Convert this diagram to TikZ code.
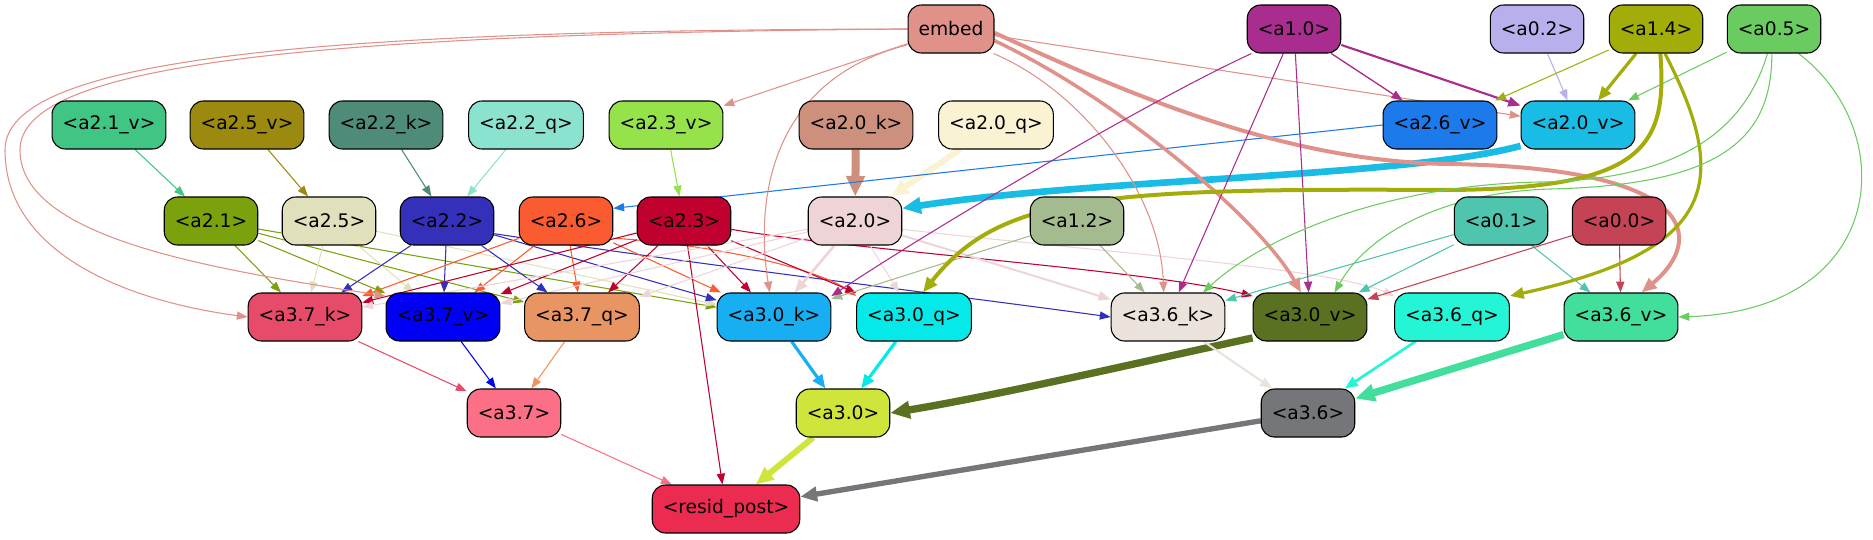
\documentclass[tikz,border=0pt]{standalone}
\usepackage{fontspec}
\setmainfont{DejaVu Sans}
\usetikzlibrary{arrows.meta}

\pgfdeclarelayer{edges}
\pgfsetlayers{edges,main}

\definecolor{cEmbed}{HTML}{E0918A}
\definecolor{cA10}{HTML}{A82D8E}
\definecolor{cA02}{HTML}{B8B0EC}
\definecolor{cA14}{HTML}{A3AD0A}
\definecolor{cA05}{HTML}{6ACC60}
\definecolor{cA21v}{HTML}{40C584}
\definecolor{cA25v}{HTML}{9C8A10}
\definecolor{cA22k}{HTML}{4E8B79}
\definecolor{cA22q}{HTML}{8BE3CF}
\definecolor{cA23v}{HTML}{96E24B}
\definecolor{cA20k}{HTML}{CD907D}
\definecolor{cA20q}{HTML}{FAF3D3}
\definecolor{cA26v}{HTML}{1C7AEA}
\definecolor{cA20v}{HTML}{19BCE5}
\definecolor{cA21}{HTML}{7BA20C}
\definecolor{cA25}{HTML}{E1E0BD}
\definecolor{cA22}{HTML}{3530BA}
\definecolor{cA26}{HTML}{FB5B30}
\definecolor{cA23}{HTML}{C0002F}
\definecolor{cA20}{HTML}{EED3D7}
\definecolor{cA12}{HTML}{A4BA8F}
\definecolor{cA01}{HTML}{4FC4AE}
\definecolor{cA00}{HTML}{C44455}
\definecolor{cA37k}{HTML}{E64B6A}
\definecolor{cA37v}{HTML}{0000F5}
\definecolor{cA37q}{HTML}{E99563}
\definecolor{cA30k}{HTML}{17AFF2}
\definecolor{cA30q}{HTML}{05EAE8}
\definecolor{cA36k}{HTML}{ECE2DC}
\definecolor{cA30v}{HTML}{5A7121}
\definecolor{cA36q}{HTML}{24F5D6}
\definecolor{cA36v}{HTML}{42DE9B}
\definecolor{cA37}{HTML}{FC7087}
\definecolor{cA30}{HTML}{CFE53B}
\definecolor{cA36}{HTML}{75767A}
\definecolor{cResid}{HTML}{EC2B51}

\begin{document}
\begin{tikzpicture}[
    x=0.75pt, y=-0.75pt,
    box/.style={rectangle, draw, line width=0.8pt, fill=#1, rounded corners=10pt, minimum height=36pt, inner xsep=7.9pt, font=\fontsize{14pt}{16pt}\selectfont},
    link/.style={draw=#1, line width=0.8pt, -{Triangle[length=7pt 1.4, width=5pt 1.4]}}
]
\useasboundingbox (0,0) rectangle (1873,539);

% inputs
\node[box=cEmbed] (embed) at (951,29) {embed};
\node[box=cA10] (a10) at (1294,29) {<a1.0>};
\node[box=cA02] (a02) at (1537,29) {<a0.2>};
\node[box=cA14] (a14) at (1656,29) {<a1.4>};
\node[box=cA05] (a05) at (1774,29) {<a0.5>};

% layer 2 heads
\node[box=cA21v] (a21v) at (109,125) {<a2.1\_v>};
\node[box=cA25v] (a25v) at (247,125) {<a2.5\_v>};
\node[box=cA22k] (a22k) at (386,125) {<a2.2\_k>};
\node[box=cA22q] (a22q) at (526,125) {<a2.2\_q>};
\node[box=cA23v] (a23v) at (666,125) {<a2.3\_v>};
\node[box=cA20k] (a20k) at (856,125) {<a2.0\_k>};
\node[box=cA20q] (a20q) at (996,125) {<a2.0\_q>};
\node[box=cA26v] (a26v) at (1440,125) {<a2.6\_v>};
\node[box=cA20v] (a20v) at (1578,125) {<a2.0\_v>};

\node[box=cA21] (a21) at (211,221) {<a2.1>};
\node[box=cA25] (a25) at (329,221) {<a2.5>};
\node[box=cA22] (a22) at (447,221) {<a2.2>};
\node[box=cA26] (a26) at (566,221) {<a2.6>};
\node[box=cA23] (a23) at (684,221) {<a2.3>};
\node[box=cA20] (a20) at (855,221) {<a2.0>};
\node[box=cA12] (a12) at (1077,221) {<a1.2>};
\node[box=cA01] (a01) at (1501,221) {<a0.1>};
\node[box=cA00] (a00) at (1619,221) {<a0.0>};

% layer 3 heads
\node[box=cA37k] (a37k) at (305,317) {<a3.7\_k>};
\node[box=cA37v] (a37v) at (443,317) {<a3.7\_v>};
\node[box=cA37q] (a37q) at (582,317) {<a3.7\_q>};
\node[box=cA30k] (a30k) at (774,317) {<a3.0\_k>};
\node[box=cA30q] (a30q) at (914,317) {<a3.0\_q>};
\node[box=cA36k] (a36k) at (1168,317) {<a3.6\_k>};
\node[box=cA30v] (a30v) at (1310,317) {<a3.0\_v>};
\node[box=cA36q] (a36q) at (1452,317) {<a3.6\_q>};
\node[box=cA36v] (a36v) at (1621,317) {<a3.6\_v>};

\node[box=cA37] (a37) at (514,413) {<a3.7>};
\node[box=cA30] (a30) at (843,413) {<a3.0>};
\node[box=cA36] (a36) at (1308,413) {<a3.6>};

\node[box=cResid] (resid) at (726,509) {<resid\_post>};

\begin{pgfonlayer}{edges}
% from the top row
\draw[link=cEmbed] (embed) -- (a23v);
\draw[link=cEmbed] (embed) -- (a20v);
\draw[link=cA10, line width=1pt] (a10) -- (a26v);
\draw[link=cA10, line width=1.6pt] (a10) -- (a20v);
\draw[link=cA02] (a02) -- (a20v);
\draw[link=cA14] (a14) -- (a26v);
\draw[link=cA14, line width=2.4pt] (a14) -- (a20v);
\draw[link=cA05] (a05) -- (a20v);

% into layer 2
\draw[link=cA21v] (a21v) -- (a21);
\draw[link=cA25v] (a25v) -- (a25);
\draw[link=cA22k] (a22k) -- (a22);
\draw[link=cA22q] (a22q) -- (a22);
\draw[link=cA23v] (a23v) -- (a23);
\draw[link=cA20k, line width=6pt] (a20k) -- (a20);
\draw[link=cA20q, line width=4.5pt] (a20q) -- (a20);
\draw[link=cA20v, line width=5pt] (a20v.200) .. controls (1400,178) and (1100,178) .. (a20.15);
\draw[link=cA26v] (a26v.west) -- (a26.15);

% into layer 3
\draw[link=cA21] (a21) -- (a37k);
\draw[link=cA21] (a21) -- (a37v);
\draw[link=cA21] (a21) -- (a37q);
\draw[link=cA21] (a21) -- (a30k);
\draw[link=cA25] (a25) -- (a37k);
\draw[link=cA25] (a25) -- (a37v);
\draw[link=cA25] (a25) -- (a30k);
\draw[link=cA22] (a22) -- (a37k);
\draw[link=cA22] (a22) -- (a37v);
\draw[link=cA22] (a22) -- (a37q);
\draw[link=cA22] (a22) -- (a30k);
\draw[link=cA22] (a22.-15) .. controls (700,265) and (950,295) .. (a36k.west);
\draw[link=cA26] (a26) -- (a37k);
\draw[link=cA26] (a26) -- (a37v);
\draw[link=cA26] (a26) -- (a37q);
\draw[link=cA26] (a26) -- (a30k);
\draw[link=cA26] (a26.-20) .. controls (720,245) and (820,270) .. (a30q.160);
\draw[link=cA23] (a23) -- (a37k);
\draw[link=cA23] (a23) -- (a37v);
\draw[link=cA23] (a23) -- (a37q);
\draw[link=cA23] (a23) -- (a30k);
\draw[link=cA23] (a23) -- (a30q);
\draw[link=cA23] (a23.-10) .. controls (850,250) and (1150,270) .. (a30v.160);
\draw[link=cA23] (a23) -- (resid);
\draw[link=cA20] (a20) -- (a37k);
\draw[link=cA20] (a20) -- (a37v);
\draw[link=cA20] (a20) -- (a37q);
\draw[link=cA20, line width=2pt] (a20) -- (a30k);
\draw[link=cA20] (a20) -- (a30q);
\draw[link=cA20, line width=1.5pt] (a20) -- (a36k);
\draw[link=cA20] (a20.-10) .. controls (1100,252) and (1330,268) .. (a36q.160);
\draw[link=cA12] (a12) -- (a30k);
\draw[link=cA12] (a12) -- (a36k);
\draw[link=cA01] (a01) -- (a36k);
\draw[link=cA01] (a01) -- (a30v);
\draw[link=cA01] (a01) -- (a36v);
\draw[link=cA00] (a00) -- (a30v);
\draw[link=cA00] (a00) -- (a36v);

% long edges from embed and the top row
\draw[link=cEmbed] (embed.west) .. controls (300,30) and (5,60) .. (5,150) .. controls (5,250) and (120,300) .. (a37k.west);
\draw[link=cEmbed] (embed.west) .. controls (300,34) and (20,65) .. (20,150) .. controls (20,240) and (220,270) .. (a37v.160);
\draw[link=cEmbed] (embed.200) .. controls (770,80) and (755,200) .. (a30k.100);
\draw[link=cEmbed] (embed.-30) .. controls (1080,90) and (1160,190) .. (a36k.100);
\draw[link=cEmbed, line width=2.6pt] (embed.-15) .. controls (1120,100) and (1260,220) .. (a30v.110);
\draw[link=cEmbed, line width=3pt] (embed.-5) .. controls (1120,90) and (1280,162) .. (1450,164) .. controls (1700,168) and (1705,240) .. (a36v.50);
\draw[link=cA10] (a10.210) .. controls (1150,100) and (930,230) .. (a30k.20);
\draw[link=cA10] (a10) -- (a36k);
\draw[link=cA10] (a10) -- (a30v);
\draw[link=cA14, line width=3pt] (a14.-80) .. controls (1668,150) and (1640,188) .. (1450,190) .. controls (1100,188) and (1000,195) .. (a30q.70);
\draw[link=cA14, line width=2.4pt] (a14.-70) .. controls (1730,180) and (1720,250) .. (a36q.20);
\draw[link=cA05] (a05.-105) .. controls (1745,130) and (1680,180) .. (1540,182) .. controls (1380,185) and (1260,240) .. (a36k.35);
\draw[link=cA05] (a05.-95) .. controls (1772,140) and (1720,185) .. (1550,189) .. controls (1450,192) and (1370,230) .. (a30v.45);
\draw[link=cA05] (a05.-45) .. controls (1900,130) and (1890,310) .. (a36v.east);

% into layer 3 outputs
\draw[link=cA37k] (a37k) -- (a37);
\draw[link=cA37v] (a37v) -- (a37);
\draw[link=cA37q] (a37q) -- (a37);
\draw[link=cA30k, line width=2.4pt] (a30k) -- (a30);
\draw[link=cA30q, line width=2.4pt] (a30q) -- (a30);
\draw[link=cA30v, line width=5.5pt] (a30v.200) .. controls (1150,360) and (1000,395) .. (a30.east);
\draw[link=cA36k, line width=1.6pt] (a36k) -- (a36);
\draw[link=cA36q, line width=2pt] (a36q) -- (a36);
\draw[link=cA36v, line width=5.5pt] (a36v) -- (a36);

% residual
\draw[link=cA37] (a37) -- (resid);
\draw[link=cA30, line width=4.5pt] (a30) -- (resid);
\draw[link=cA36, line width=4pt] (a36) -- (resid);
\end{pgfonlayer}
\end{tikzpicture}
\end{document}
